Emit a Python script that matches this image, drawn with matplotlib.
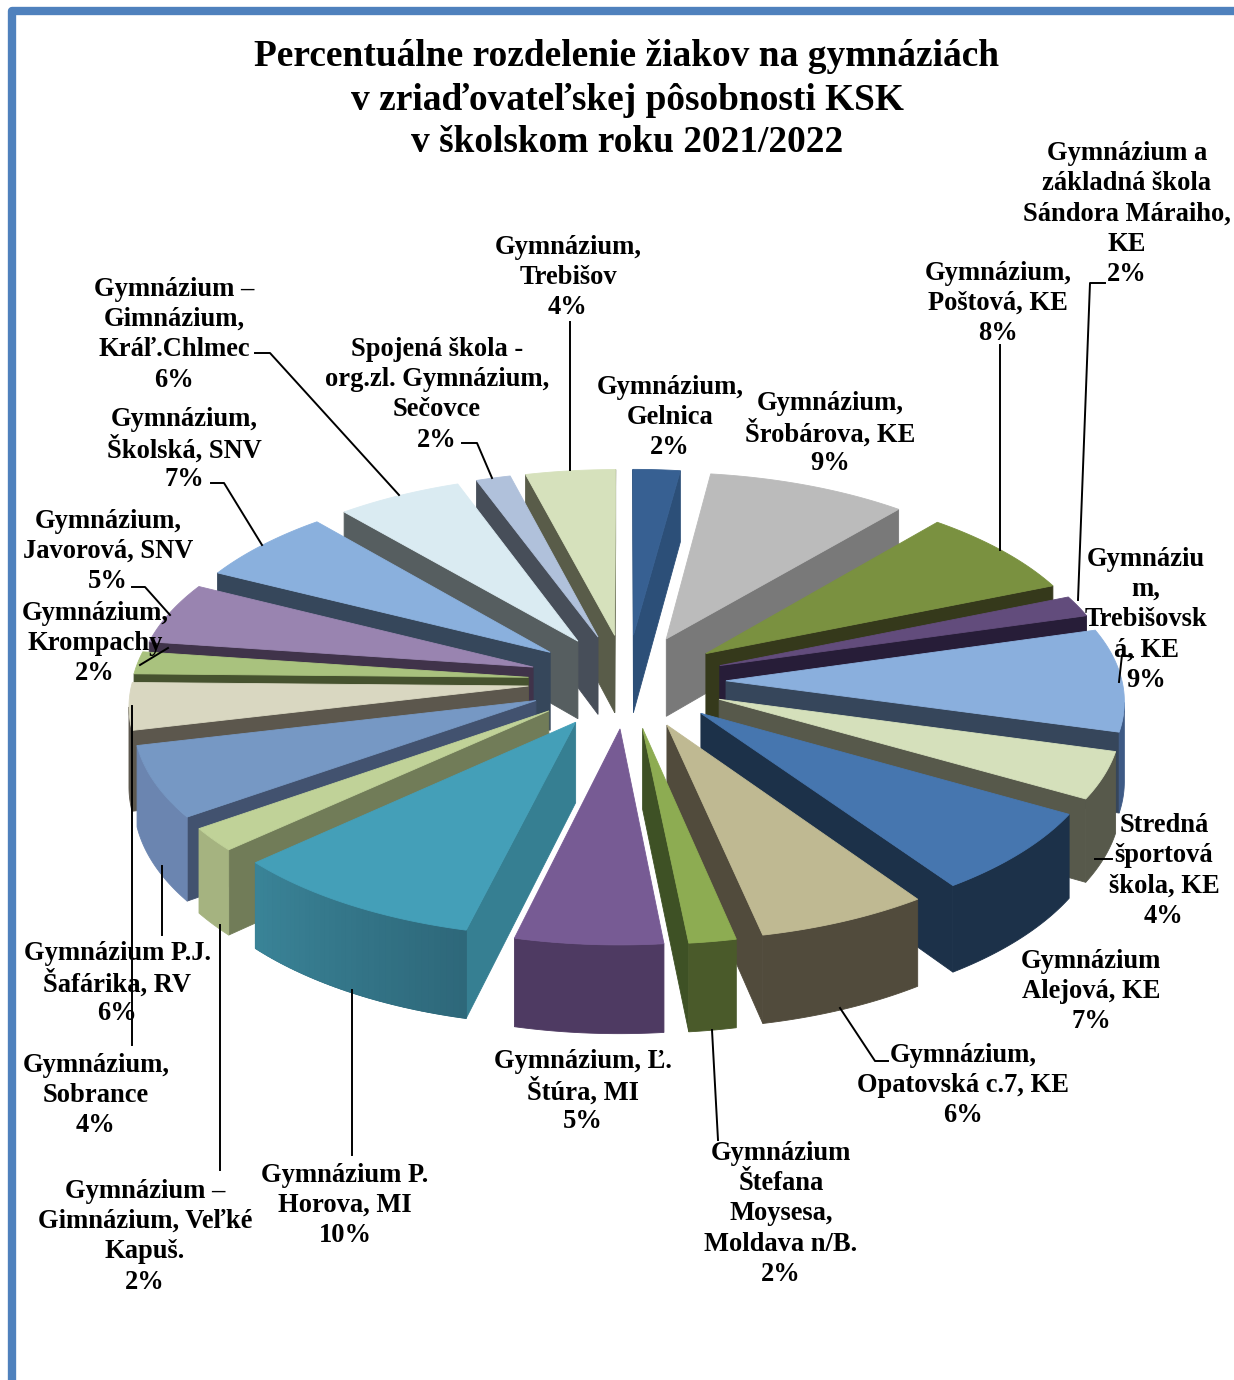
import numpy as np
import matplotlib
matplotlib.use('Agg')
import matplotlib.pyplot as plt
from matplotlib.colors import to_rgb

plt.rcParams['font.family'] = ['Liberation Serif', 'DejaVu Serif']

title_lines = ["Percentuálne rozdelenie žiakov na gymnáziách",
               "v zriaďovateľskej pôsobnosti KSK",
               "v školskom roku 2021/2022"]

labels = ["Gymnázium,\nGelnica\n2%",
          "Gymnázium,\nŠrobárova, KE\n9%",
          "Gymnázium,\nPoštová, KE\n8%",
          "Gymnázium a\nzákladná škola\nSándora Máraiho,\nKE\n2%",
          "Gymnáziu\nm,\nTrebišovsk\ná, KE\n9%",
          "Stredná\nšportová\nškola, KE\n4%",
          "Gymnázium\nAlejová, KE\n7%",
          "Gymnázium,\nOpatovská c.7, KE\n6%",
          "Gymnázium\nŠtefana\nMoysesa,\nMoldava n/B.\n2%",
          "Gymnázium, Ľ.\nŠtúra, MI\n5%",
          "Gymnázium P.\nHorova, MI\n10%",
          "Gymnázium –\nGimnázium, Veľké\nKapuš.\n2%",
          "Gymnázium P.J.\nŠafárika, RV\n6%",
          "Gymnázium,\nSobrance\n4%",
          "Gymnázium,\nKrompachy\n2%",
          "Gymnázium,\nJavorová, SNV\n5%",
          "Gymnázium,\nŠkolská, SNV\n7%",
          "Gymnázium –\nGimnázium,\nKráľ.Chlmec\n6%",
          "Spojená škola -\norg.zl. Gymnázium,\nSečovce\n2%",
          "Gymnázium,\nTrebišov\n4%"]

values = [2.12, 9.03, 7.6, 1.8, 8.75, 4.0, 7.1, 6.27, 1.73, 5.4,
          9.4, 2.0, 6.1, 4.0, 1.9, 5.25, 6.3, 5.65, 1.55, 4.05]

top_colors = ["#376092", "#BBBBBB", "#7A9140", "#624C7C", "#8AAFDD",
              "#D5E0BB", "#4676AF", "#BFB992", "#8DAC52", "#775B94",
              "#449FB8", "#C0D298", "#7698C4", "#D9D7C1", "#A9C27E",
              "#9984B0", "#8AB0DD", "#DAEBF2", "#B0C1DB", "#D6E1BC"]
side_colors = ["#2C4F78", "#797979", "#35391B", "#271D38", "#36465B",
               "#57594B", "#1C3149", "#514B3C", "#3E5125", "#4E3A62",
               "#367F92", "#717C58", "#42526F", "#5C574D", "#46522F",
               "#40334A", "#36475B", "#565E60", "#474E59", "#595C49"]
rim_start = ["#2C4F78", "#797979", "#35391B", "#271D38", "#3E5A85",
             "#57594B", "#1C3149", "#514B3C", "#4A5A2A", "#4E3A62",
             "#2E687A", "#A5B380", "#6B85B0", "#5C574D", "#46522F",
             "#40334A", "#36475B", "#565E60", "#474E59", "#595C49"]
rim_end = ["#2C4F78", "#797979", "#35391B", "#271D38", "#3E5A85",
           "#57594B", "#1C3149", "#514B3C", "#4A5A2A", "#4E3A62",
           "#3A8498", "#A5B380", "#6B85B0", "#5C574D", "#46522F",
           "#40334A", "#36475B", "#565E60", "#474E59", "#595C49"]

# label anchor: centre x, y of first line, all in picture pixels
label_x = [670, 830, 998, 1127, 1146, 1164, 1091, 963, 781, 583,
           345, 145, 117, 96, 95, 108, 184, 174, 437, 568]
label_y = [387, 403, 273, 153, 559, 825, 961, 1055, 1153, 1061,
           1175, 1191, 953, 1065, 613, 521, 419, 289, 349, 247]

leaders = [[(570, 322), (570, 470)],
           [(462, 443), (477, 443), (492, 478)],
           [(255, 353), (270, 353), (399, 495)],
           [(211, 483), (224, 483), (262, 545)],
           [(132, 587), (145, 587), (170, 615)],
           [(140, 665), (168, 648)],
           [(132, 706), (132, 1045)],
           [(162, 866), (162, 935)],
           [(220, 925), (220, 1170)],
           [(352, 990), (352, 1155)],
           [(712, 1030), (718, 1140)],
           [(840, 1008), (875, 1061), (888, 1061)],
           [(1095, 859), (1112, 859)],
           [(1000, 345), (1000, 550)],
           [(1105, 283), (1090, 283), (1078, 600)],
           [(1119, 682), (1122, 655), (1133, 657)]]

cx, cy = 627, 681
rx, ry = 495, 235
persp = 0.11
depth = 79
explode = 0.2
radius = 0.8


def project(X, Y, z=0.0):
    w = 1 - persp * Y
    return cx + rx * X / w, cy + (ry * Y + depth * z) / w


def mix(c1, c2, t):
    a, b = np.array(to_rgb(c1)), np.array(to_rgb(c2))
    return tuple(a + (b - a) * t)


fig = plt.figure(figsize=(12.34, 13.8), dpi=100)
ax = fig.add_axes([0, 0, 1, 1])
ax.set_xlim(0, 1234)
ax.set_ylim(1380, 0)
ax.axis('off')

# blue frame of the chart area
ax.plot([12, 12, 1234], [1380, 11, 11], color="#4F81BD", lw=6, solid_joinstyle='round')

edges = np.cumsum([0] + values) / sum(values) * 2 * np.pi
mids = (edges[:-1] + edges[1:]) / 2

# back slices first, front slices over them
for i in np.argsort(-np.cos(mids)):
    ax0 = explode * np.sin(mids[i])
    ay0 = -explode * np.cos(mids[i])
    th = np.linspace(edges[i], edges[i + 1], 40)
    X = np.r_[ax0, ax0 + radius * np.sin(th)]
    Y = np.r_[ay0, ay0 - radius * np.cos(th)]
    tx, ty = project(X, Y)
    bx, by = project(X, Y, 1.0)
    n = len(X)
    rim = []
    for j in range(n):
        k = (j + 1) % n
        qx = [tx[j], tx[k], bx[k], bx[j]]
        qy = [ty[j], ty[k], by[k], by[j]]
        area = sum(qx[m] * qy[(m + 1) % 4] - qx[(m + 1) % 4] * qy[m] for m in range(4))
        if area >= 0:
            continue
        if j == 0 or j == n - 1:
            ax.fill(qx, qy, color=side_colors[i], lw=0.6)
        else:
            rim.append(j)
    # outer wall, one piece unless the slice has a gradient
    if rim:
        idx = rim + [rim[-1] + 1]
        ax.fill(np.r_[tx[idx], bx[idx][::-1]], np.r_[ty[idx], by[idx][::-1]],
                color=rim_start[i], lw=0.6)
        if rim_start[i] != rim_end[i]:
            for j in rim:
                ax.fill([tx[j], tx[j + 1], bx[j + 1], bx[j]], [ty[j], ty[j + 1], by[j + 1], by[j]],
                        color=mix(rim_start[i], rim_end[i], (j - 1) / (n - 2)), lw=0.8)
    ax.fill(tx, ty, color=top_colors[i], lw=0.6)

for pts in leaders:
    ax.plot([p[0] for p in pts], [p[1] for p in pts], color="black", lw=1.4)

for t, y in zip(title_lines, [54, 97, 140]):
    ax.text(627, y + 3, t, ha='center', va='center', fontsize=26.9, fontweight='bold')

for lab, x, y in zip(labels, label_x, label_y):
    for n, line in enumerate(lab.split("\n")):
        ax.text(x, y + n * 30.4, line, ha='center', va='center', fontsize=19.1, fontweight='bold')

fig.savefig("out.png", dpi=100)
